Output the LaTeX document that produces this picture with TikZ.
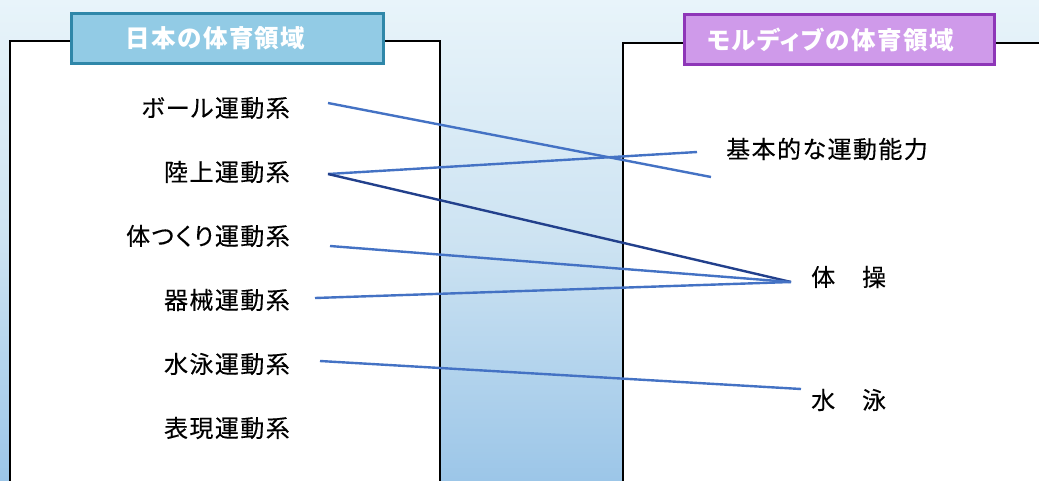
\documentclass[tikz,border=0pt]{standalone}
\usepackage{fontspec}
\setmainfont{Noto Sans CJK JP}
\newfontfamily\jpspaced[LetterSpace=6,RawFeature=+palt,FakeBold=0.3]{Noto Sans CJK JP}
\newfontfamily\jptitle[LetterSpace=6,RawFeature=+palt]{Noto Sans CJK JP}
\usetikzlibrary{calc}
\definecolor{bgtop}{HTML}{E8F4FA}
\definecolor{bgmid}{HTML}{CDE3F2}
\definecolor{bgbot}{HTML}{9CC6E8}
\definecolor{ttlA}{HTML}{92CBE5}
\definecolor{ttlAb}{HTML}{2F87A9}
\definecolor{ttlB}{HTML}{CF9AEA}
\definecolor{ttlBb}{HTML}{8E36B8}
\definecolor{lnA}{HTML}{4472C4}
\definecolor{lnB}{HTML}{22408C}
\tikzset{
  panel/.style={draw=black, fill=white, line width=2.5pt},
  ttlbox/.style={line width=2.8pt, minimum height=50pt, text=white, font=\jptitle\fontsize{24.5}{28}\selectfont\bfseries, inner sep=0pt},
  lbl/.style={font=\jpspaced\fontsize{24}{28}\selectfont, inner sep=0pt, text=black},
  lk/.style={draw=lnA, line width=2.4pt},
  lkd/.style={draw=lnB, line width=2.4pt},
}
\begin{document}
\begin{tikzpicture}[x=1pt,y=-1pt]
\useasboundingbox (0,0) rectangle (1039,480);
\clip (0,0) rectangle (1039,480);
\shade[top color=bgtop, bottom color=bgbot, middle color=bgmid] (0,0) rectangle (1039,480);
% panels
\draw[panel] (10,41) rectangle (440,500);
\draw[panel] (623,43) rectangle (1060,500);
% titles
\node[ttlbox, draw=ttlAb, fill=ttlA, minimum width=312pt] (tA) at (227.5,38.5) {日本の体育領域\hbox to 24pt{}};
\node[ttlbox, draw=ttlBb, fill=ttlB, minimum width=310pt] (tB) at (839.5,39.5) {モルディブの体育領域\hbox to 18pt{}};
% left labels
\node[lbl, anchor=east] (ball) at (290,108) {ボール運動系};
\node[lbl, anchor=east] (riku) at (290,172) {陸上運動系};
\node[lbl, anchor=east] (tai) at (290,236) {体つくり運動系};
\node[lbl, anchor=east] (kikai) at (290,300) {器械運動系};
\node[lbl, anchor=east] (sui) at (290,364) {水泳運動系};
\node[lbl, anchor=east] (hyo) at (290,428) {表現運動系};
% right labels
\node[lbl, anchor=west] (kihon) at (726,149) {基本的な運動能力};
\node[lbl, anchor=west] (taiso) at (811,277) {体　操};
\node[lbl, anchor=west] (suiei) at (811,400) {水　泳};
% connector endpoints
\coordinate (a1) at ($(ball.east)+(38,-5)$);
\coordinate (a2) at ($(riku.east)+(38,2)$);
\coordinate (a3) at ($(tai.east)+(40,10)$);
\coordinate (a4) at ($(kikai.east)+(25,-2)$);
\coordinate (a5) at ($(sui.east)+(30,-3)$);
\coordinate (b1) at ($(kihon.west)+(-15,28)$);
\coordinate (b2) at ($(kihon.west)+(-29,3)$);
\coordinate (b3) at ($(taiso.west)+(-20,5)$);
\coordinate (b4) at ($(suiei.west)+(-10,-11)$);
% connectors
\draw[lk] (a1) -- (b1);
\draw[lk] (a2) -- (b2);
\draw[lkd] (a2) -- (b3);
\draw[lk] (a3) -- (b3);
\draw[lk] (a4) -- (b3);
\draw[lk] (a5) -- (b4);
\end{tikzpicture}
\end{document}
